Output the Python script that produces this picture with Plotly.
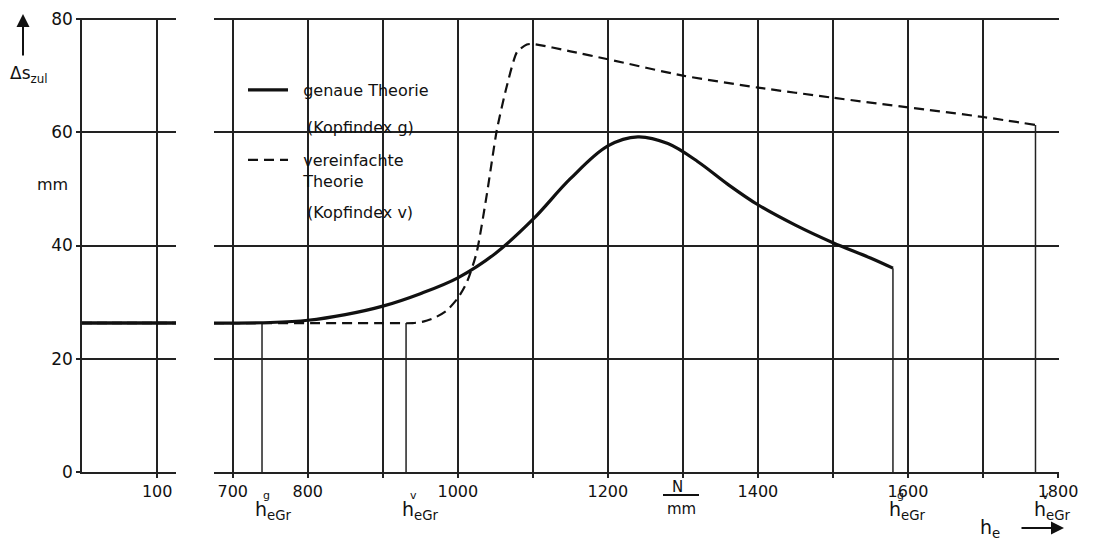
import plotly.graph_objects as go

# ---------------- data ----------------
plateau = 26.3
left_x = [60, 110]                      # left (narrow) panel, h_e in N/mm
left_ticks = [100]

genau_x = [675, 700, 750, 800, 850, 900, 950, 1000, 1050, 1100, 1150,
           1200, 1240, 1280, 1320, 1360, 1400, 1450, 1500, 1550, 1580]
genau_y = [26.3, 26.3, 26.4, 26.8, 27.8, 29.3, 31.5, 34.3, 38.6, 44.6, 51.8,
           57.6, 59.2, 58.0, 54.8, 50.8, 47.2, 43.6, 40.5, 37.8, 36.0]

vereinf_x = [675, 900, 940, 955, 970, 985, 1000, 1012, 1025, 1039, 1052, 1065,
             1079, 1092, 1100, 1150, 1200, 1300, 1400, 1500, 1600, 1700, 1770]
vereinf_y = [26.3, 26.3, 26.3, 26.6, 27.3, 28.5, 30.7, 33.5, 38.7, 49.3, 60.4, 68.0,
             74.2, 75.5, 75.6, 74.3, 72.9, 70.0, 67.9, 66.1, 64.4, 62.7, 61.3]

heGr_g_low, heGr_v_low = 739, 931     # where the curves leave the plateau
heGr_g, heGr_v = 1580, 1770           # limit values (ends of the curves)

right_ticks = [700, 800, 1000, 1200, 1400, 1600, 1800]
y_ticks = [0, 20, 40, 60, 80]

# ---------------- style ----------------
W, H = 1094, 545
OFF = 8            # page body margin
FONT = "DejaVu Sans"
INK = "#111111"
GRID = "#222222"
SP = "\u00a0\u00a0"

def px(xp):
    return (xp - OFF) / W

def py(yp):
    return 1 - (yp - OFF) / H

fig = go.Figure()

# left panel curves (both on plateau)
fig.add_trace(go.Scatter(x=left_x, y=[plateau, plateau], mode="lines",
                         line=dict(color=INK, width=3.5), xaxis="x", yaxis="y",
                         showlegend=False, hoverinfo="skip"))
fig.add_trace(go.Scatter(x=left_x, y=[plateau, plateau], mode="lines",
                         line=dict(color=INK, width=2.5, dash="10px,5px"), xaxis="x", yaxis="y",
                         showlegend=False, hoverinfo="skip"))

# vertical limit lines from 0 up to the curves
vx, vy = [], []
for h, top in [(heGr_g_low, plateau), (heGr_v_low, plateau),
               (heGr_g, genau_y[-1]), (heGr_v, vereinf_y[-1])]:
    vx += [h, h, None]
    vy += [0, top, None]
fig.add_trace(go.Scatter(x=vx, y=vy, mode="lines", line=dict(color=GRID, width=1.5),
                         xaxis="x2", yaxis="y2", showlegend=False, hoverinfo="skip"))

# main curves
fig.add_trace(go.Scatter(x=genau_x, y=genau_y, mode="lines", name=SP + "genaue Theorie",
                         line=dict(color=INK, width=3.2, shape="spline", smoothing=1.0),
                         xaxis="x2", yaxis="y2", legend="legend"))
fig.add_trace(go.Scatter(x=vereinf_x, y=vereinf_y, mode="lines",
                         name=SP + "vereinfachte<br>" + SP + "Theorie",
                         line=dict(color=INK, width=2.2, dash="10px,6px", shape="spline", smoothing=0.6),
                         xaxis="x2", yaxis="y2", legend="legend2"))

y_dom = [py(472), py(17.9)]
axis_common = dict(showgrid=True, gridcolor=GRID, gridwidth=1.5, zeroline=False,
                   tickfont=dict(family=FONT, size=16, color=INK))

fig.update_layout(
    width=W, height=H,
    margin=dict(l=0, r=0, t=0, b=0, autoexpand=False),
    paper_bgcolor="white", plot_bgcolor="white",
    font=dict(family=FONT, size=16, color=INK),
    xaxis=dict(domain=[px(82), px(176)], range=[left_x[0], left_x[1]], anchor="y",
               tickmode="array", tickvals=left_ticks, ticks="outside", ticklen=4,
               tickcolor=GRID, tickwidth=1.5, showline=True, linecolor=GRID, linewidth=1.5,
               **axis_common),
    yaxis=dict(domain=y_dom, range=[0, 80.2], anchor="x",
               tickmode="array", tickvals=y_ticks, ticks="outside", ticklen=4,
               tickcolor=GRID, tickwidth=1.5, showline=True, linecolor=GRID, linewidth=1.5,
               showgrid=True, gridcolor=GRID, gridwidth=1.5, zeroline=False,
               tickfont=dict(family=FONT, size=17, color=INK)),
    xaxis2=dict(domain=[px(214), px(1058.75)], range=[675, 1801], anchor="y2",
                tickmode="array", tickvals=right_ticks, ticks="outside", ticklen=4,
                tickcolor=GRID, tickwidth=1.5, showline=True, linecolor=GRID, linewidth=1.5,
                minor=dict(tickmode="linear", tick0=700, dtick=100, showgrid=True,
                           gridcolor=GRID, gridwidth=1.5, ticks="outside", ticklen=4,
                           tickcolor=GRID, tickwidth=1.5),
                **axis_common),
    yaxis2=dict(domain=y_dom, matches="y", anchor="x2", tickmode="array", tickvals=y_ticks,
                showticklabels=False, ticks="", showline=False, showgrid=True,
                gridcolor=GRID, gridwidth=1.5, zeroline=False),
    legend=dict(x=px(243), y=py(73), xanchor="left", yanchor="top",
                bgcolor="rgba(0,0,0,0)", font=dict(family=FONT, size=16, color=INK),
                itemwidth=40, valign="top"),
    legend2=dict(x=px(243), y=py(143), xanchor="left", yanchor="top",
                 bgcolor="rgba(0,0,0,0)", font=dict(family=FONT, size=16, color=INK),
                 itemwidth=40, valign="top"),
)

ann = []
def txt(x, y, t, size=16, xa="center", ya="middle"):
    ann.append(dict(x=px(x), y=py(y), xref="paper", yref="paper", text=t, showarrow=False,
                    xanchor=xa, yanchor=ya, font=dict(family=FONT, size=size, color=INK)))

# legend sub lines
txt(305, 127, "(Kopfindex g)", xa="left")
txt(305, 213, "(Kopfindex v)", xa="left")

# y-axis label
txt(29, 74, "Δs<sub>zul</sub>", size=17)
txt(52, 184, "mm", size=16)
ann.append(dict(x=px(23), y=py(14), ax=0, ay=43, xref="paper", yref="paper",
                text="", showarrow=True, arrowhead=2,
                arrowsize=1.3, arrowwidth=2, arrowcolor=INK))

# unit N/mm
txt(677, 487, "N", size=15)
txt(681, 509, "mm", size=15)

# h_eGr labels
for hx, sup in [(260, "g"), (407, "v"), (894, "g"), (1039, "v")]:
    txt(hx - 7, 510, "h<sub>eGr</sub>", size=19, xa="left")
    txt(hx + 6, 495, sup, size=11)

# h_e arrow
txt(990, 528, "h<sub>e</sub>", size=19)
ann.append(dict(x=px(1064), y=py(528), ax=-44, ay=0, xref="paper", yref="paper",
                text="", showarrow=True, arrowhead=2,
                arrowsize=1.3, arrowwidth=2, arrowcolor=INK))

fig.update_layout(annotations=ann,
                  shapes=[dict(type="line", xref="paper", yref="paper",
                               x0=px(663), x1=px(699), y0=py(495), y1=py(495),
                               line=dict(color=INK, width=2))])

fig.write_html("out.html")
